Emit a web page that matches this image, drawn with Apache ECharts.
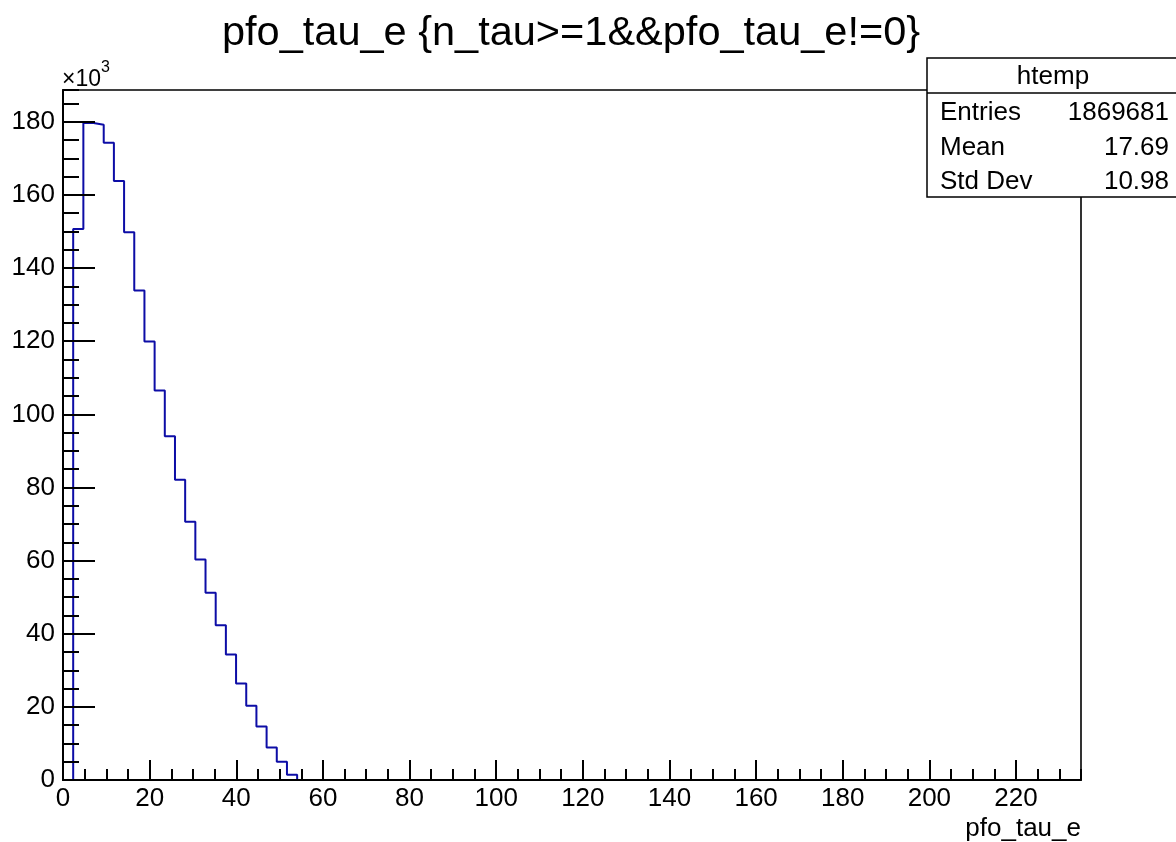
<!DOCTYPE html>
<html>
<head>
<meta charset="utf-8">
<script src="https://cdn.jsdelivr.net/npm/echarts@6/dist/echarts.min.js"></script>
<style>
html,body{margin:0;padding:0;background:#fff;}
#chart{width:1176px;height:842px;}
</style>
</head>
<body>
<div id="chart"></div>
<script>
// Histogram pfo_tau_e : 100 bins from 0 to 235 (bin width 2.35); counts in units of 10^3
var binWidth = 2.35;
var xMax = 235;
var yMax = 188.7;
var binCounts = [0, 150.7, 179.7, 179.2, 174.3, 163.8, 149.8, 133.9, 119.9, 106.5, 94.0,
                 82.1, 70.6, 60.3, 51.2, 42.3, 34.3, 26.4, 20.3, 14.6, 8.9, 5.0, 1.45];
var xTicks = [0, 20, 40, 60, 80, 100, 120, 140, 160, 180, 200, 220];
var yTicks = [0, 20, 40, 60, 80, 100, 120, 140, 160, 180];
var titleText = 'pfo_tau_e {n_tau>=1&&pfo_tau_e!=0}';
var xTitle = 'pfo_tau_e';
var statsName = 'htemp';
var statsLabels = ['Entries', 'Mean', 'Std Dev'];
var statsValues = ['1869681', '17.69', '10.98'];

var FONT = '"Liberation Sans", Arial, Helvetica, sans-serif';

var points = binCounts.map(function (v, i) { return [i * binWidth, v]; });
points.push([binCounts.length * binWidth, 0]);
points.push([xMax, 0]);

var chart = echarts.init(document.getElementById('chart'), null, {renderer: 'canvas'});

function majorFmt(list) {
  return function (v) {
    for (var i = 0; i < list.length; i++) if (Math.abs(list[i] - v) < 1e-6) return String(list[i]);
    return '';
  };
}

var statsTop = 58, statsLeft = 927, rowH = 34.5;
var graphic = [
  {type: 'text', left: 62, top: 68, z: 10,
   style: {text: '\u00d710', font: '23px ' + FONT, fill: '#000'}},
  {type: 'text', left: 101, top: 60, z: 10,
   style: {text: '3', font: '16px ' + FONT, fill: '#000'}},
  {type: 'rect', z: 10, shape: {x: statsLeft, y: statsTop, width: 260, height: 139},
   style: {fill: '#fff', stroke: '#000', lineWidth: 1.5}},
  {type: 'line', z: 11, shape: {x1: statsLeft, y1: 93, x2: 1190, y2: 93},
   style: {stroke: '#000', lineWidth: 1.5}},
  {type: 'text', z: 12, x: 1053, y: 77,
   style: {text: statsName, font: '26px ' + FONT, fill: '#000', align: 'center', verticalAlign: 'middle'}}
];
statsLabels.forEach(function (lab, i) {
  var cy = 113 + i * rowH;
  graphic.push({type: 'text', z: 12, x: 940, y: cy,
    style: {text: lab, font: '26px ' + FONT, fill: '#000', align: 'left', verticalAlign: 'middle'}});
  graphic.push({type: 'text', z: 12, x: 1169, y: cy,
    style: {text: statsValues[i], font: '26px ' + FONT, fill: '#000', align: 'right', verticalAlign: 'middle'}});
});

var option = {
  animation: false,
  backgroundColor: '#fff',
  title: {
    text: titleText, left: 217, top: 8,
    textStyle: {fontFamily: FONT, fontSize: 41.5, fontWeight: 'normal', color: '#000'}
  },
  grid: {left: 63, top: 90, right: 95, bottom: 61, show: true,
         borderColor: '#000', borderWidth: 1.6, backgroundColor: 'transparent', containLabel: false},
  xAxis: [
    {type: 'value', min: 0, max: xMax, interval: 20, position: 'bottom', z: 5,
     name: xTitle, nameLocation: 'end', nameGap: 0,
     nameTextStyle: {fontFamily: FONT, fontSize: 26, color: '#000', align: 'right', verticalAlign: 'top', padding: [36, 0, 0, 0]},
     axisLine: {show: true, lineStyle: {color: '#000', width: 2}},
     axisTick: {show: true, inside: true, length: 20, lineStyle: {color: '#000', width: 2}},
     axisLabel: {show: true, margin: 6, fontFamily: FONT, fontSize: 26, color: '#000',
                 formatter: majorFmt(xTicks), showMaxLabel: false},
     splitLine: {show: false}},
    {type: 'value', min: 0, max: xMax, interval: 5, position: 'bottom', z: 5,
     axisLine: {show: false},
     axisTick: {show: true, inside: true, length: 11, lineStyle: {color: '#000', width: 2}},
     axisLabel: {show: false}, splitLine: {show: false}}
  ],
  yAxis: [
    {type: 'value', min: 0, max: yMax, interval: 20, position: 'left', z: 5,
     axisLine: {show: true, lineStyle: {color: '#000', width: 2}},
     axisTick: {show: true, inside: true, length: 32, lineStyle: {color: '#000', width: 2}},
     axisLabel: {show: true, margin: 8, fontFamily: FONT, fontSize: 26, color: '#000',
                 formatter: majorFmt(yTicks), showMaxLabel: false},
     splitLine: {show: false}},
    {type: 'value', min: 0, max: yMax, interval: 5, position: 'left', z: 5,
     axisLine: {show: false},
     axisTick: {show: true, inside: true, length: 16, lineStyle: {color: '#000', width: 2}},
     axisLabel: {show: false}, splitLine: {show: false}}
  ],
  series: [{
    type: 'line', step: 'end', xAxisIndex: 0, yAxisIndex: 0, z: 2,
    showSymbol: false, symbol: 'none', silent: true,
    lineStyle: {color: '#0d0da6', width: 2},
    data: points
  }],
  graphic: graphic
};
chart.setOption(option);
</script>
</body>
</html>
